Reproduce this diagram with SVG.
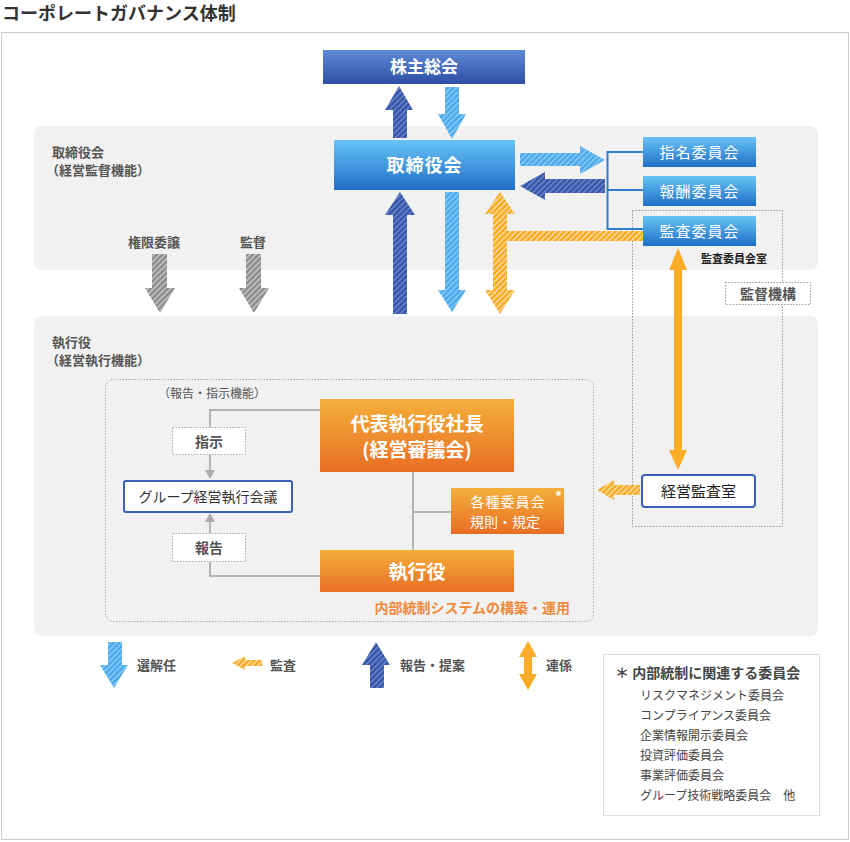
<svg xmlns="http://www.w3.org/2000/svg" width="850" height="842" viewBox="0 0 850 842">
<defs>
<linearGradient id="gTop" x1="0" y1="0" x2="0" y2="1"><stop offset="0" stop-color="#5f8ad8"/><stop offset="1" stop-color="#2e4fa4"/></linearGradient>
<linearGradient id="gBlue" x1="0" y1="0" x2="0" y2="1"><stop offset="0" stop-color="#68c3f6"/><stop offset="1" stop-color="#1f6fc6"/></linearGradient>
<linearGradient id="gOr" x1="0" y1="0" x2="0" y2="1"><stop offset="0" stop-color="#f4b03a"/><stop offset="1" stop-color="#e96d25"/></linearGradient>
<pattern id="hLB" width="4" height="4" patternUnits="userSpaceOnUse" patternTransform="rotate(45)"><rect width="4" height="4" fill="#4aa8ec"/><rect width="1.5" height="4" fill="#8ccdf7"/></pattern>
<pattern id="hDB" width="4" height="4" patternUnits="userSpaceOnUse" patternTransform="rotate(45)"><rect width="4" height="4" fill="#3554a8"/><rect width="1.5" height="4" fill="#6f88cc"/></pattern>
<pattern id="hOr" width="4" height="4" patternUnits="userSpaceOnUse" patternTransform="rotate(45)"><rect width="4" height="4" fill="#f7a823"/><rect width="1.5" height="4" fill="#fde0a0"/></pattern>
<pattern id="hGr" width="4" height="4" patternUnits="userSpaceOnUse" patternTransform="rotate(45)"><rect width="4" height="4" fill="#8a8a8a"/><rect width="1.5" height="4" fill="#c8c8c8"/></pattern>
<marker id="ga" markerWidth="8" markerHeight="8" refX="4" refY="6" orient="auto" markerUnits="userSpaceOnUse"><path d="M0,0 L8,0 L4,8 Z" fill="#aaa" transform="rotate(-90 4 4)"/></marker>
</defs>
<style>
text{font-family:"Noto Sans CJK JP","Noto Sans",sans-serif}
.b{font-weight:bold}
.w{fill:#fff;font-weight:bold}
.lab{fill:#555;font-weight:bold;font-size:13px}
.dot{fill:#fff;stroke:#aaa;stroke-dasharray:1.5 1.5}
.gl{stroke:#b4b4b4;stroke-width:2;fill:none}
</style>
<text x="2" y="20" font-size="18" class="b" fill="#333">コーポレートガバナンス体制</text>
<rect x="1.5" y="32.5" width="847" height="807" fill="#fff" stroke="#ccc"/>
<rect x="34" y="126" width="784" height="144" rx="8" fill="#f1f1f1"/>
<rect x="34" y="316" width="784" height="320" rx="8" fill="#f1f1f1"/>

<g id="labels-left">
<text x="52" y="157" class="lab" font-size="14">取締役会</text>
<text x="46" y="175" class="lab">（経営監督機能）</text>
<text x="128" y="247" class="lab">権限委譲</text>
<text x="240" y="247" class="lab">監督</text>
<text x="52" y="347" class="lab" font-size="14">執行役</text>
<text x="46" y="365" class="lab">（経営執行機能）</text>
</g>

<rect x="632.5" y="210.5" width="150" height="316" fill="none" stroke="#999" stroke-dasharray="1.5 1.5"/>
<rect x="105.5" y="379.5" width="488" height="242" rx="8" fill="none" stroke="#aaa" stroke-dasharray="1.5 1.5"/>

<g id="connectors">
<!-- shareholders arrows -->
<path d="M393,138 V110 H385 L399,86 L413,110 H407 V138 Z" fill="url(#hDB)"/>
<path d="M445,87 V114 H438 L452,139 L466,114 H459 V87 Z" fill="url(#hLB)"/>
<!-- board to exec -->
<path d="M393,314 V215 H385 L400,192 L415,215 H407 V314 Z" fill="url(#hDB)"/>
<path d="M445,192 V290 H438 L452,312 L466,290 H459 V192 Z" fill="url(#hLB)"/>
<path d="M493,214 H485 L500,192 L515,214 H507 V231 H645 V241 H507 V290 H515 L500,314 L485,290 H493 Z" fill="url(#hOr)"/>
<!-- committees arrows -->
<path d="M520,153 H580 V146 L605,160 L580,174 V166 H520 Z" fill="url(#hLB)"/>
<path d="M605,179 H545 V172 L520,186 L545,200 V193 H605 Z" fill="url(#hDB)"/>
<path d="M643,152 H607.5 V229 H643 M607.5,190 H643" fill="none" stroke="#2f7ed0" stroke-width="2"/>
<!-- gray delegation -->
<path d="M152,254 V288 H145 L160,313 L175,288 H167 V254 Z" fill="url(#hGr)"/>
<path d="M246,254 V288 H239 L254,313 L269,288 H261 V254 Z" fill="url(#hGr)"/>
<!-- audit link -->
<path d="M674,270 H669 L678,248 L687,270 H682 V450 H687 L678,470 L669,450 H674 Z" fill="#fbad28"/>
<path d="M640,485 H614 V480 L597,490 L614,500 V495 H640 Z" fill="url(#hOr)"/>
<!-- inner gray lines -->
<path class="gl" d="M320,410 H210 V427"/>
<path class="gl" d="M210,455 V474"/>
<path d="M205,470 L215,470 L210,479 Z" fill="#aaa"/>
<path class="gl" d="M320,576 H210 V562"/>
<path class="gl" d="M210,533 V518"/>
<path d="M205,522 L215,522 L210,513 Z" fill="#aaa"/>
<path class="gl" d="M413,472 V550 M413,512 H451"/>
</g>

<g id="n-shareholders"><rect x="323" y="50" width="202" height="34" fill="url(#gTop)"/><text x="424" y="73" text-anchor="middle" font-size="17" class="w">株主総会</text></g>
<g id="n-board"><rect x="334" y="140" width="181" height="50" fill="url(#gBlue)"/><text x="424.5" y="172" text-anchor="middle" font-size="18" class="w" letter-spacing="1">取締役会</text></g>
<g id="n-nom"><rect x="643" y="137" width="113" height="30" fill="url(#gBlue)"/><text x="699.5" y="158" text-anchor="middle" font-size="15" fill="#fff" letter-spacing="1">指名委員会</text></g>
<g id="n-comp"><rect x="643" y="176" width="113" height="30" fill="url(#gBlue)"/><text x="699.5" y="197" text-anchor="middle" font-size="15" fill="#fff" letter-spacing="1">報酬委員会</text></g>
<g id="n-audit"><rect x="643" y="216" width="113" height="30" fill="url(#gBlue)"/><text x="699.5" y="237" text-anchor="middle" font-size="15" fill="#fff" letter-spacing="1">監査委員会</text></g>
<text x="701" y="263" font-size="11" class="b" fill="#222">監査委員会室</text>
<g id="n-supervision"><rect x="725.5" y="282.5" width="85" height="22" fill="#fff" stroke="#999" stroke-dasharray="1.5 1.5"/><text x="768" y="299" text-anchor="middle" font-size="14" class="b" fill="#555">監督機構</text></g>
<g id="n-mgmtaudit"><rect x="642" y="475" width="113" height="32" rx="3" fill="#fff" stroke="#3a5fbe" stroke-width="2"/><text x="698.5" y="497" text-anchor="middle" font-size="15" fill="#222">経営監査室</text></g>

<text x="158" y="398" font-size="12" fill="#555">（報告・指示機能）</text>
<g id="n-ceo"><rect x="320" y="399" width="194" height="73" fill="url(#gOr)"/><text x="417" y="431" text-anchor="middle" font-size="19" class="w">代表執行役社長</text><text x="417" y="457" text-anchor="middle" font-size="19" class="w">(経営審議会)</text></g>
<g id="n-exec"><rect x="320" y="550" width="194" height="42" fill="url(#gOr)"/><text x="417" y="579" text-anchor="middle" font-size="19" class="w">執行役</text></g>
<g id="n-comms"><rect x="451" y="488" width="113" height="46" fill="url(#gOr)"/><text x="508" y="507" text-anchor="middle" font-size="14" fill="#fff" letter-spacing="1">各種委員会</text><text x="555" y="502" font-size="14" class="w">*</text><text x="505" y="527" text-anchor="middle" font-size="14" fill="#fff">規則・規定</text></g>
<g id="n-instr"><rect x="172.5" y="427.5" width="73" height="27" class="dot"/><text x="209" y="447" text-anchor="middle" font-size="14" class="b" fill="#555">指示</text></g>
<g id="n-report"><rect x="172.5" y="533.5" width="73" height="28" class="dot"/><text x="209" y="553" text-anchor="middle" font-size="14" class="b" fill="#555">報告</text></g>
<g id="n-group"><rect x="124" y="481" width="168" height="31" rx="2" fill="#fff" stroke="#3a5fbe" stroke-width="2"/><text x="208" y="502" text-anchor="middle" font-size="14" fill="#333">グループ経営執行会議</text></g>
<text x="570" y="613" text-anchor="end" font-size="14" class="b" fill="#f08a3a">内部統制システムの構築・運用</text>

<g id="legend">
<path d="M108,642 V665 H100 L114,688 L128,665 H122 V642 Z" fill="url(#hLB)"/>
<text x="137" y="670" class="lab" font-size="14">選解任</text>
<path d="M262,660 H245 V656 L232,663 L245,670 V666 H262 Z" fill="url(#hOr)"/>
<text x="270" y="670" class="lab" font-size="14">監査</text>
<path d="M370,688 V665 H362 L376,642 L390,665 H384 V688 Z" fill="url(#hDB)"/>
<text x="400" y="670" class="lab" font-size="14">報告・提案</text>
<path d="M524,657 H519 L528,641 L537,657 H532 V674 H537 L528,690 L519,674 H524 Z" fill="#fbad28"/>
<text x="546" y="670" class="lab" font-size="14">連係</text>
</g>
<g id="notes">
<rect x="603.5" y="654.5" width="216" height="161" fill="#fff" stroke="#ddd"/>
<text x="615" y="678" font-size="14" class="b" fill="#444">＊ 内部統制に関連する委員会</text>
<g font-size="12" fill="#444">
<text x="640" y="700">リスクマネジメント委員会</text>
<text x="640" y="720">コンプライアンス委員会</text>
<text x="640" y="740">企業情報開示委員会</text>
<text x="640" y="760">投資評価委員会</text>
<text x="640" y="780">事業評価委員会</text>
<text x="640" y="800">グループ技術戦略委員会　他</text>
</g>
</g>
</svg>
